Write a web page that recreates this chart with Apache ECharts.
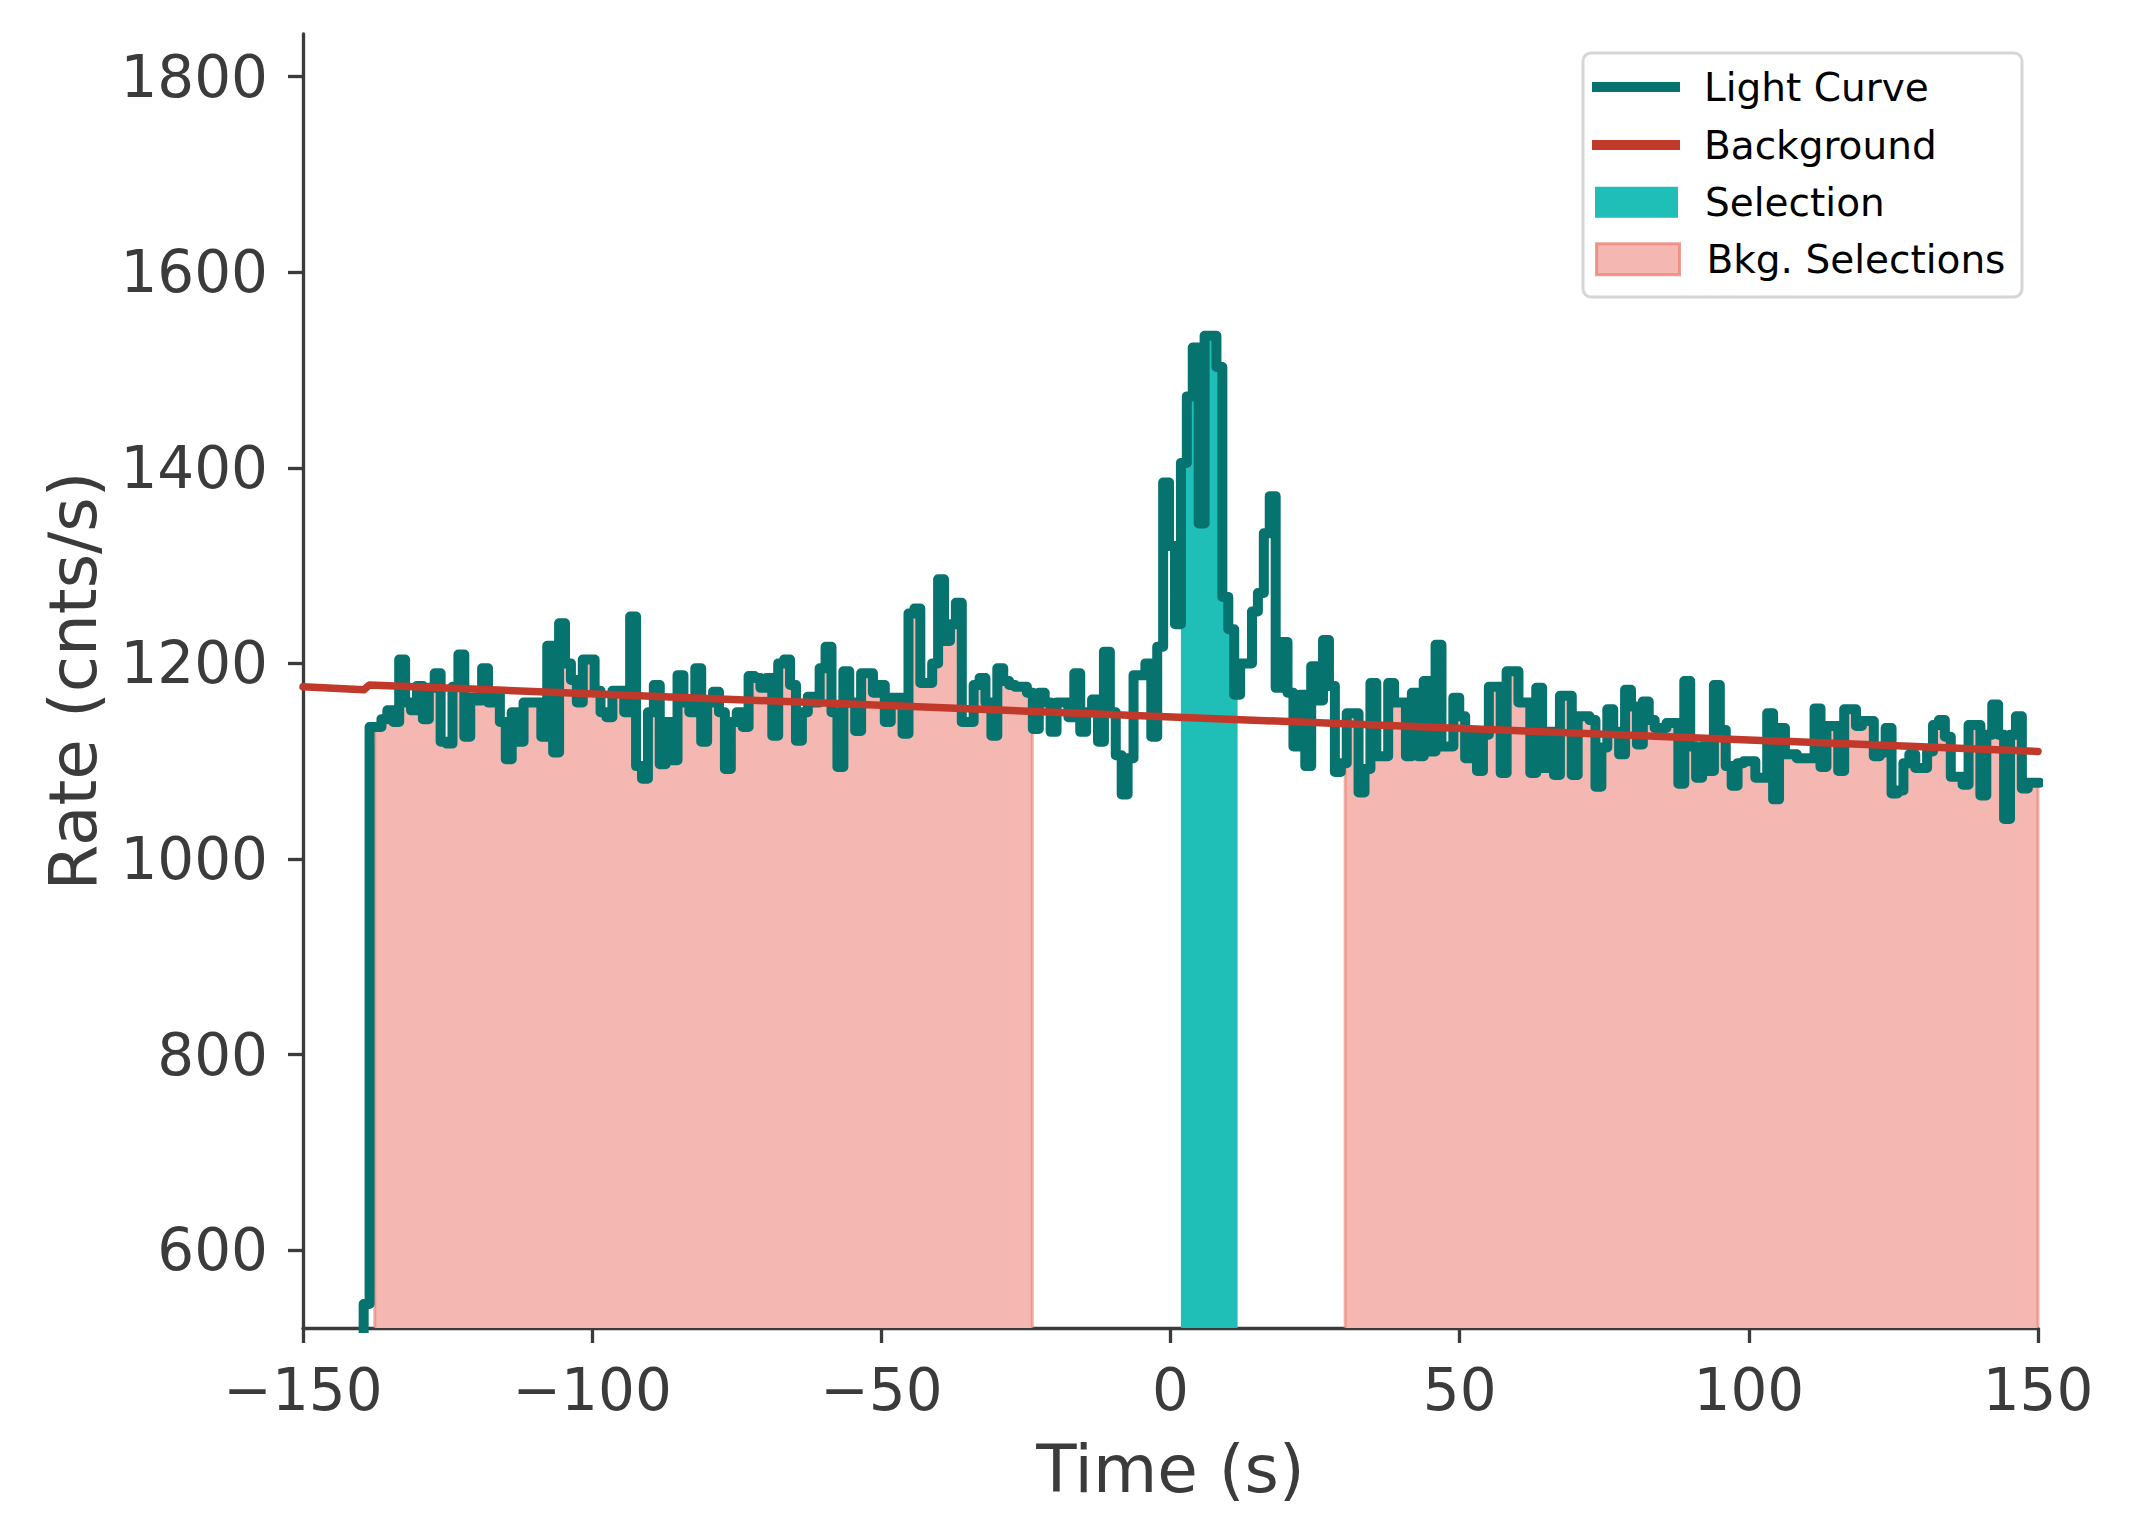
<!DOCTYPE html>
<html>
<head>
<meta charset="utf-8">
<script src="https://cdn.jsdelivr.net/npm/echarts@6/dist/echarts.min.js"></script>
<style>html,body{margin:0;padding:0;background:#fff}#c{width:2129px;height:1540px}</style>
</head>
<body>
<div id="c"></div>
<script>
// ---------------- data ----------------
const binStart0 = -139.512;   // start time of first bin (s)
const binWidth = 1.024;       // bin width (s)
const lcLead = 0;             // level before the first bin (below the axis)
const lcRate = [
  545,
  1135, 1135, 1143, 1152, 1140, 1204, 1160, 1152, 1177, 1143,
  1175, 1190, 1120, 1118, 1176, 1209, 1125, 1165, 1162, 1195,
  1160, 1170, 1140, 1102, 1150, 1120, 1160, 1160, 1160, 1125,
  1218, 1109, 1241, 1200, 1183, 1160, 1204, 1204, 1172, 1150,
  1145, 1172, 1172, 1150, 1248,
  1095, 1082, 1150, 1178, 1097, 1140, 1101, 1188, 1160, 1150,
  1195, 1120, 1160, 1171, 1150, 1092, 1140, 1150, 1135, 1187,
  1185, 1175, 1185, 1126, 1200, 1204, 1178, 1121, 1150, 1166,
  1160, 1195, 1217, 1150, 1094, 1192, 1160, 1131, 1190, 1190,
  1170, 1178, 1140, 1165, 1165, 1128, 1251, 1256,
  1180, 1180, 1200, 1286, 1223, 1240, 1262, 1140, 1140, 1178,
  1185, 1160, 1126, 1195, 1182, 1178, 1176, 1176, 1170, 1133,
  1170, 1160, 1130, 1160, 1160, 1145, 1190, 1130, 1150, 1163,
  1120, 1212, 1150, 1106, 1066,
  1103, 1188, 1188, 1200, 1125, 1217, 1385, 1320, 1240, 1405,
  1473, 1523, 1343, 1535, 1535, 1503, 1268, 1235, 1168, 1200,
  1200, 1253, 1272, 1333, 1371, 1175, 1222, 1170, 1115, 1168,
  1095, 1197,
  1162, 1224, 1177, 1089, 1098, 1149, 1149, 1068, 1092, 1180,
  1105, 1105, 1180, 1160, 1160, 1105, 1170, 1105, 1182, 1110,
  1219, 1115, 1115, 1165, 1146, 1103, 1127, 1090, 1127, 1176,
  1176, 1088, 1192, 1192, 1160, 1160, 1088, 1175, 1093, 1130,
  1086, 1167, 1167, 1086, 1146, 1146, 1142, 1074,
  1114, 1153, 1130, 1107, 1173, 1156, 1117, 1161, 1142, 1134,
  1134, 1139, 1139, 1077, 1182, 1115, 1083, 1115, 1090, 1178,
  1132, 1095, 1075, 1098, 1100, 1100, 1083, 1083, 1149, 1061,
  1134, 1107, 1107, 1103, 1103, 1103, 1154, 1094, 1136, 1136,
  1090, 1153, 1153, 1136, 1141, 1141, 1105,
  1109, 1134, 1067, 1070, 1098, 1107, 1093, 1093, 1110, 1137,
  1142, 1125, 1084, 1084, 1076, 1137, 1137, 1065, 1127, 1158,
  1127, 1041, 1127, 1146, 1072, 1078, 1078
];
const bkgT = [-150, -139.5, -138.5, 150];
const bkgRate = [1176, 1173, 1178, 1110];
const selRange = [1.8, 11.6];
const bkgRanges = [[-137.6, -23.9], [30.2, 150]];
const xRange = [-150, 150];
const xStep = 50;
const yRange = [520.5, 1843.5];
const yTicks = [600, 800, 1000, 1200, 1400, 1600, 1800];
const legendNames = ['Light Curve', 'Background', 'Selection', 'Bkg. Selections'];

// ---------------- build ----------------
const FONT = 'DejaVu Sans';
const C_LC = '#07736e', C_BKG = '#c0392b', C_SEL = '#1fbfb7', C_PINK = '#f5b7b1', C_PINK_EDGE = 'rgba(234,125,112,0.6)';
const AX = '#3b3b3b';

const edges = lcRate.map((v, i) => binStart0 + i * binWidth);
const lcEnd = binStart0 + lcRate.length * binWidth;
const lcData = [[binStart0, lcLead]]
  .concat(lcRate.map((v, i) => [edges[i], v]))
  .concat([[lcEnd, lcRate[lcRate.length - 1]]]);

function rateAt(t) {
  let i = Math.floor((t - binStart0) / binWidth);
  i = Math.max(0, Math.min(lcRate.length - 1, i));
  return lcRate[i];
}
function rangeData(a, b, closeToAxis) {
  const pts = [];
  if (closeToAxis) pts.push([a, yRange[0]]);
  pts.push([a, rateAt(a)]);
  edges.forEach((e, i) => { if (e > a && e < b) pts.push([e, lcRate[i]]); });
  pts.push([b, rateAt(b - 1e-6)]);
  if (closeToAxis) pts.push([b, yRange[0]]);
  return pts;
}

const series = [];
bkgRanges.forEach(r => {
  series.push({
    name: 'Bkg. Selections', type: 'line', step: 'end', z: 1,
    symbol: 'none', showSymbol: false, silent: true,
    data: rangeData(r[0], r[1], true),
    itemStyle: { color: C_PINK },
    lineStyle: { color: C_PINK_EDGE, width: 3 },
    areaStyle: { color: C_PINK, opacity: 1, origin: 'start' }
  });
});
series.push({
  name: 'Selection', type: 'line', step: 'end', z: 1,
  symbol: 'none', showSymbol: false, silent: true,
  data: rangeData(selRange[0], selRange[1], false),
  itemStyle: { color: C_SEL },
  lineStyle: { width: 0, color: C_SEL },
  areaStyle: { color: C_SEL, opacity: 1, origin: 'start' }
});
series.push({
  name: 'Light Curve', type: 'line', step: 'end', z: 2,
  symbol: 'none', showSymbol: false, silent: true,
  data: lcData,
  itemStyle: { color: C_LC },
  lineStyle: { color: C_LC, width: 10, cap: 'round', join: 'round' }
});
series.push({
  name: 'Background', type: 'line', z: 3,
  symbol: 'none', showSymbol: false, silent: true,
  data: bkgT.map((t, i) => [t, bkgRate[i]]),
  itemStyle: { color: C_BKG },
  lineStyle: { color: C_BKG, width: 7.5, cap: 'round', join: 'round' }
});

function legendItem(name, center, left, w, h, itemStyle, pad) {
  return {
    show: true, selectedMode: false, orient: 'vertical',
    left: left, top: center - 20, padding: 0,
    itemWidth: w, itemHeight: h, icon: 'rect', z: 6,
    data: [{ name: name, itemStyle: itemStyle }],
    formatter: n => '{t|' + n + '}',
    textStyle: { fontFamily: FONT, fontSize: 39, color: '#000',
      rich: { t: { padding: [0, 0, 0, pad], fontFamily: FONT, fontSize: 39, color: '#000', lineHeight: 40 } } }
  };
}

const option = {
  animation: false,
  backgroundColor: '#ffffff',
  textStyle: { fontFamily: FONT },
  grid: { left: 303, right: 91, top: 34, bottom: 212, containLabel: false, outerBoundsMode: 'none' },
  xAxis: {
    type: 'value', min: xRange[0], max: xRange[1], interval: xStep,
    axisLine: { show: true, onZero: false, lineStyle: { color: AX, width: 3.3 } },
    axisTick: { show: true, length: 15, lineStyle: { color: AX, width: 3.3 } },
    axisLabel: { show: true, fontSize: 58, color: AX, fontFamily: FONT, margin: 33,
      formatter: v => String(v).replace('-', '\u2212') },
    splitLine: { show: false },
    name: 'Time (s)', nameLocation: 'middle', nameGap: 108,
    nameTextStyle: { fontSize: 66, color: AX, fontFamily: FONT }
  },
  yAxis: {
    type: 'value', min: yRange[0], max: yRange[1],
    axisLine: { show: true, onZero: false, lineStyle: { color: AX, width: 3.3 } },
    axisTick: { show: true, length: 15, customValues: yTicks, lineStyle: { color: AX, width: 3.3 } },
    axisLabel: { show: true, fontSize: 58, color: AX, fontFamily: FONT, margin: 35, customValues: yTicks,
      formatter: v => String(v) },
    splitLine: { show: false },
    name: 'Rate (cnts/s)', nameLocation: 'middle', nameGap: 197, nameRotate: 90,
    nameTextStyle: { fontSize: 66, color: AX, fontFamily: FONT }
  },
  legend: [
    legendItem(legendNames[0], 87.5, 1592, 88, 10, { color: C_LC, borderWidth: 0 }, 19),
    legendItem(legendNames[1], 145.5, 1592, 88, 10, { color: C_BKG, borderWidth: 0 }, 19),
    legendItem(legendNames[2], 202.7, 1595, 83, 31, { color: C_SEL, borderWidth: 0 }, 22),
    legendItem(legendNames[3], 259.7, 1595, 83, 31, { color: C_PINK, borderColor: 'rgba(234,125,112,0.75)', borderWidth: 3 }, 22)
  ],
  graphic: [{
    type: 'rect', z: 4, silent: true,
    shape: { x: 1583, y: 53, width: 439, height: 244, r: 8 },
    style: { fill: 'rgba(255,255,255,0.85)', stroke: '#d6d6d6', lineWidth: 3 }
  }],
  series: series
};

const chart = echarts.init(document.getElementById('c'), null, { renderer: 'svg', width: 2129, height: 1540 });
chart.setOption(option);
</script>
</body>
</html>
